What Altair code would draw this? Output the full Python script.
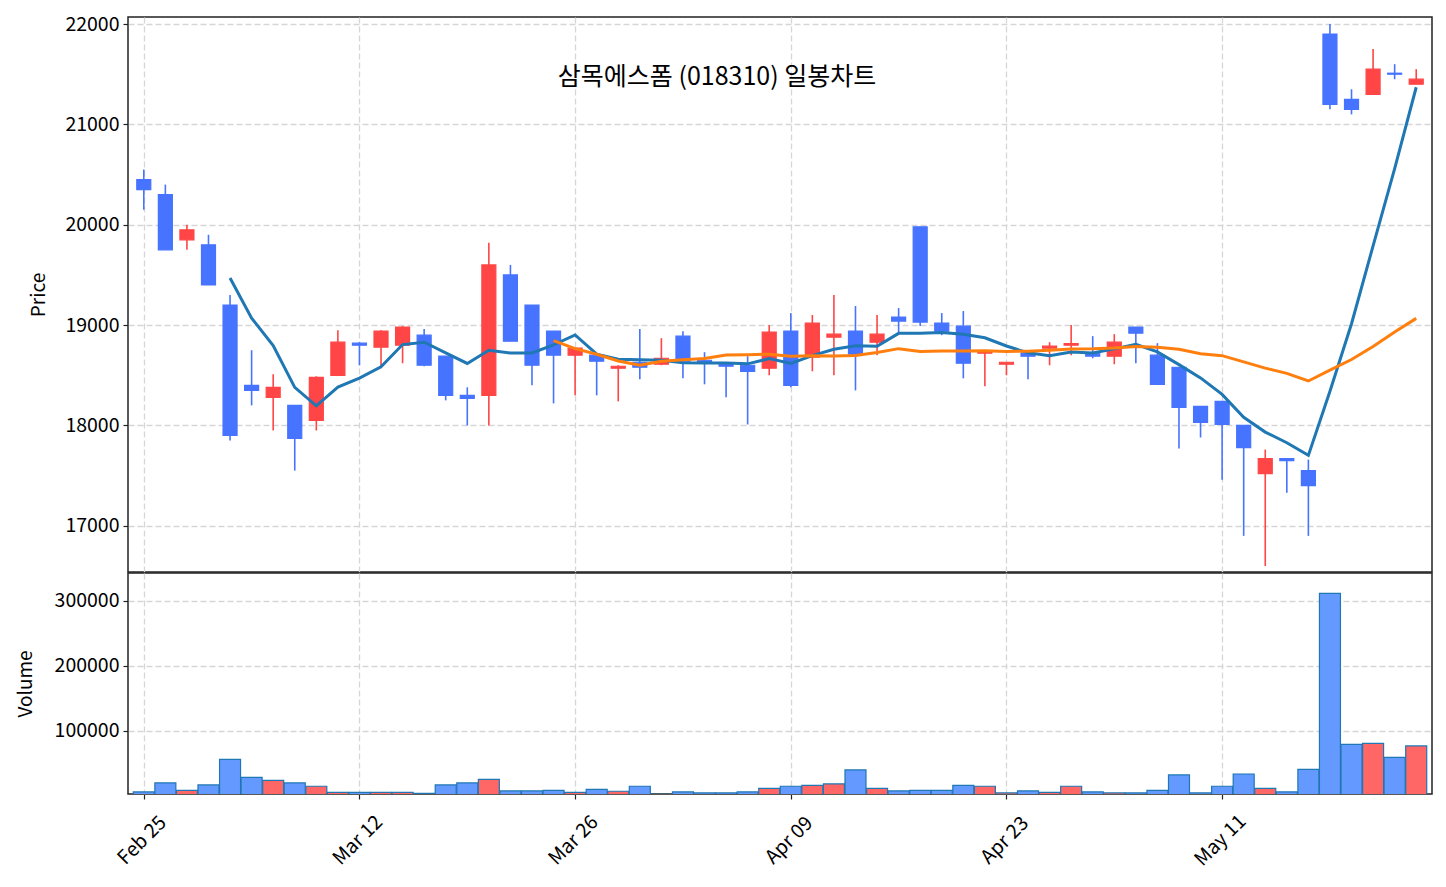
import altair as alt
import pandas as pd

# ---------------- data ----------------
day_index = list(range(60))
open_ = [20450, 20300, 19850, 19800, 19200, 18400, 18280, 18200, 18050, 18500,
         18820, 18780, 18800, 18900, 18690, 18300, 18300, 19500, 19200, 18940,
         18700, 18700, 18570, 18630, 18610, 18890, 18650, 18610, 18600, 18570,
         18940, 18680, 18880, 18940, 18830, 19080, 19980, 19020, 18990, 18720,
         18610, 18720, 18770, 18800, 18720, 18690, 18980, 18700, 18580, 18190,
         18240, 18000, 17520, 17670, 17550, 21900, 21250, 21300, 21510, 21400]
high = [20550, 20400, 20000, 19900, 19300, 18750, 18510, 18200, 18490, 18950,
        18830, 18950, 18990, 18960, 18690, 18380, 19820, 19600, 19200, 18940,
        18770, 18700, 18600, 18960, 18870, 18940, 18730, 18610, 18690, 19000,
        19120, 19100, 19300, 19190, 19100, 19170, 19980, 19120, 19140, 18740,
        18630, 18720, 18830, 19000, 18890, 18910, 18980, 18820, 18580, 18190,
        18240, 18000, 17760, 17670, 17660, 22000, 21350, 21750, 21600, 21550]
low = [20150, 19750, 19750, 19400, 17850, 18200, 17950, 17550, 17950, 18500,
       18600, 18570, 18620, 18590, 18250, 18000, 18000, 18840, 18400, 18220,
       18300, 18300, 18240, 18460, 18600, 18470, 18410, 18280, 18010, 18500,
       18380, 18540, 18500, 18350, 18700, 18930, 18990, 18900, 18470, 18390,
       18500, 18460, 18600, 18700, 18670, 18610, 18620, 18410, 17770, 17880,
       17460, 16900, 16600, 17330, 16900, 21150, 21100, 21300, 21450, 21400]
close = [20350, 19750, 19950, 19400, 17900, 18350, 18380, 17870, 18480, 18830,
         18800, 18940, 18980, 18600, 18300, 18270, 19600, 18840, 18600, 18700,
         18770, 18640, 18590, 18580, 18670, 18640, 18630, 18590, 18540, 18930,
         18400, 19020, 18910, 18710, 18910, 19040, 19030, 18940, 18620, 18740,
         18630, 18690, 18790, 18815, 18690, 18830, 18920, 18410, 18180, 18030,
         18010, 17780, 17670, 17650, 17400, 21200, 21150, 21550, 21500, 21450]
volume = [6150, 20000, 8700, 16900, 56400, 28700, 24100, 20000, 14900, 5600,
          5600, 5600, 5600, 4100, 16900, 20000, 25600, 7700, 7700, 8700,
          5600, 10200, 7200, 14900, 2500, 6150, 4600, 4600, 6150, 11800,
          14900, 16400, 18500, 40000, 11800, 7700, 8700, 8700, 16400, 14900,
          4600, 7700, 5600, 14900, 6150, 4600, 4600, 8700, 32300, 4600,
          14900, 33800, 11800, 6150, 41000, 311800, 79500, 81000, 59500, 76900]
tick_index = [0, 10, 20, 30, 40, 50]
tick_labels = ["Feb 25", "Mar 12", "Mar 26", "Apr 09", "Apr 23", "May 11"]
price_ticks = [17000, 18000, 19000, 20000, 21000, 22000]
volume_ticks = [100000, 200000, 300000]
TITLE = "삼목에스폼 (018310) 일봉차트"

df = pd.DataFrame({"idx": day_index, "open": open_, "high": high,
                   "low": low, "close": close, "volume": volume})
df["ma5"] = df["close"].rolling(5).mean()
df["ma20"] = df["close"].rolling(20).mean()

# ---------------- styles ----------------
FONT = "Noto Sans CJK KR"
RED = "#FF4545"
BLUE = "#4673FF"
VRED = "#FF6666"
VBLUE = "#6499FF"

is_up = alt.datum.close >= alt.datum.open
candle_color = alt.when(is_up).then(alt.value(RED)).otherwise(alt.value(BLUE))
vol_color = alt.when(is_up).then(alt.value(VRED)).otherwise(alt.value(VBLUE))

x_scale = alt.Scale(domain=[-0.5, 59.5], nice=False, zero=False)
label_expr = ("[" + ",".join(f"'{t}'" for t in tick_labels) + "][indexof(["
              + ",".join(str(i) for i in tick_index) + "], datum.value)]")

base = alt.Chart(df)

x_top = alt.X("idx:Q", scale=x_scale,
              axis=alt.Axis(values=tick_index, labels=False, ticks=False,
                            domain=False, title=None, minExtent=0, maxExtent=0))
y_price = alt.Y("low:Q",
                scale=alt.Scale(domain=[16540, 22070], nice=False, zero=False),
                axis=alt.Axis(values=price_ticks, format="d", title="Price",
                              titlePadding=16))

wick = base.mark_rule(strokeWidth=1.6).encode(
    x=x_top, y=y_price, y2="high:Q", color=candle_color)
body = base.mark_bar(size=14, strokeWidth=1.2).encode(
    x="idx:Q", y="open:Q", y2="close:Q", fill=candle_color, stroke=candle_color)
ma5 = base.mark_line(color="#1f77b4", strokeWidth=3).encode(x="idx:Q", y="ma5:Q")
ma20 = base.mark_line(color="#ff7f0e", strokeWidth=3).encode(x="idx:Q", y="ma20:Q")

top = alt.layer(wick, body, ma5, ma20).properties(
    width=1304, height=555,
    title=alt.TitleParams(TITLE, font=FONT, fontSize=25, fontWeight="normal",
                          color="black", anchor="middle", frame="group",
                          dx=-63, offset=-88, baseline="middle"))

x_bot = alt.X("idx:Q", scale=x_scale,
              axis=alt.Axis(values=tick_index, labelExpr=label_expr,
                            labelAngle=-45, labelAlign="center",
                            labelBaseline="middle", labelPadding=41,
                            labelOffset=-2, title=None))
vol = base.mark_bar(size=21, stroke="#1f77b4", strokeWidth=1.2, clip=True).encode(
    x=x_bot,
    y=alt.Y("volume:Q",
            scale=alt.Scale(domain=[3000, 343000], nice=False, zero=False),
            axis=alt.Axis(values=volume_ticks, format="d", title="Volume",
                          titlePadding=19)),
    fill=vol_color)
bottom = vol.properties(width=1304, height=221)

chart = alt.vconcat(top, bottom, spacing=-1).properties(
    padding={"left": 15, "top": 13, "right": 0, "bottom": 0}
).configure_axis(
    labelFont=FONT, labelFontSize=19.5, labelColor="black",
    titleFont=FONT, titleFontSize=19, titleFontWeight="normal", titleColor="black",
    tickColor="#222", tickSize=5, tickWidth=1.2, labelPadding=4,
    gridColor="#d6d6d6", gridDash=[6, 3], gridWidth=1.3, domain=False
).configure_view(stroke="#222", strokeWidth=1.5)

chart.save("out.html", embed_options={"renderer": "svg", "actions": False})
